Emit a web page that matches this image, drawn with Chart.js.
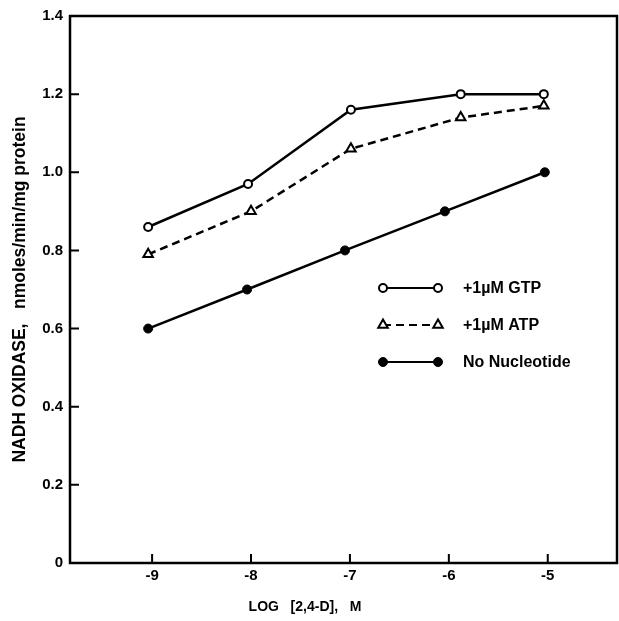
<!DOCTYPE html>
<html>
<head>
<meta charset="utf-8">
<script src="https://cdn.jsdelivr.net/npm/chart.js@4.4.1/dist/chart.umd.min.js"></script>
<style>
  html, body { margin: 0; padding: 0; background: #fff; }
  #wrap { width: 619px; height: 621px; }
</style>
</head>
<body>
<div id="wrap"><canvas id="nadhChart" width="619" height="621"></canvas></div>
<script>
// log [2,4-D] (M) and activity
const gtpX = [-9.04, -8.03, -6.99, -5.88, -5.04];
const gtpY = [0.86, 0.97, 1.16, 1.20, 1.20];
const atpX = [-9.04, -8.0, -6.99, -5.88, -5.04];
const atpY = [0.79, 0.90, 1.06, 1.14, 1.17];
const noneX = [-9.04, -8.04, -7.05, -6.04, -5.03];
const noneY = [0.60, 0.70, 0.80, 0.90, 1.00];
const xTicks = [-9, -8, -7, -6, -5];
const yTicks = [0, 0.2, 0.4, 0.6, 0.8, 1.0, 1.2, 1.4];
const seriesLabels = ['+1µM GTP', '+1µM ATP', 'No Nucleotide'];

const FONT = '"Liberation Sans", Arial, Helvetica, sans-serif';

function pts(xs, ys) {
    return xs.map((x, i) => ({ x: x, y: ys[i] }));
}

// box round the plot, inner tick marks, legend and x title
const framePlugin = {
    id: 'frame',
    afterDraw(chart) {
        const ctx = chart.ctx;
        const a = chart.chartArea;
        const x = chart.scales.x, y = chart.scales.y;
        ctx.save();
        ctx.strokeStyle = '#000';
        ctx.lineWidth = 2.5;
        ctx.setLineDash([]);
        ctx.strokeRect(a.left, a.top, a.right - a.left, a.bottom - a.top);

        ctx.lineWidth = 2;
        ctx.beginPath();
        yTicks.forEach(v => {
            if (v === 0 || v === 1.4) return;
            const py = y.getPixelForValue(v);
            ctx.moveTo(a.left, py);
            ctx.lineTo(a.left + 9, py);
        });
        xTicks.forEach(v => {
            const px = x.getPixelForValue(v);
            ctx.moveTo(px, a.bottom);
            ctx.lineTo(px, a.bottom - 9);
        });
        ctx.stroke();

        // legend
        const rows = [288, 325, 362];
        chart.data.datasets.forEach((ds, i) => {
            const ly = rows[i];
            ctx.strokeStyle = '#000';
            ctx.lineWidth = 2.2;
            ctx.setLineDash(ds.borderDash || []);
            ctx.beginPath();
            ctx.moveTo(383, ly);
            ctx.lineTo(438, ly);
            ctx.stroke();
            ctx.setLineDash([]);
            [383, 438].forEach(px => {
                ctx.fillStyle = ds.pointBackgroundColor;
                ctx.strokeStyle = '#000';
                ctx.lineWidth = ds.pointBorderWidth;
                Chart.helpers.drawPoint(ctx, {
                    pointStyle: ds.pointStyle,
                    radius: ds.pointRadius,
                    borderWidth: ds.pointBorderWidth,
                    rotation: 0
                }, px, ly);
            });
            ctx.fillStyle = '#000';
            ctx.font = 'bold 16px ' + FONT;
            ctx.textAlign = 'left';
            ctx.textBaseline = 'middle';
            ctx.fillText(ds.label, 463, ly + 1);
        });

        ctx.font = 'bold 14px ' + FONT;
        ctx.textAlign = 'center';
        ctx.textBaseline = 'middle';
        ctx.fillText('LOG   [2,4-D],   M', 305, 607);
        ctx.restore();
    }
};

const ctx = document.getElementById('nadhChart').getContext('2d');
const nadhChart = new Chart(ctx, {
    type: 'line',
    data: {
        datasets: [{
            label: seriesLabels[0],
            data: pts(gtpX, gtpY),
            borderColor: '#000',
            borderWidth: 2.5,
            pointStyle: 'circle',
            pointRadius: 4,
            pointBorderWidth: 2,
            pointBackgroundColor: '#fff',
            pointBorderColor: '#000'
        }, {
            label: seriesLabels[1],
            data: pts(atpX, atpY),
            borderColor: '#000',
            borderWidth: 2.5,
            borderDash: [8, 5],
            pointStyle: 'triangle',
            pointRadius: 5.5,
            pointBorderWidth: 2,
            pointBackgroundColor: '#fff',
            pointBorderColor: '#000'
        }, {
            label: seriesLabels[2],
            data: pts(noneX, noneY),
            borderColor: '#000',
            borderWidth: 2.5,
            pointStyle: 'circle',
            pointRadius: 4.5,
            pointBorderWidth: 1,
            pointBackgroundColor: '#000',
            pointBorderColor: '#000'
        }]
    },
    options: {
        responsive: false,
        animation: false,
        events: [],
        layout: { autoPadding: false, padding: { top: 15, right: 2, left: 0, bottom: 0 } },
        plugins: {
            legend: { display: false },
            tooltip: { enabled: false }
        },
        scales: {
            x: {
                type: 'linear',
                min: -9.83,
                max: -4.3,
                grid: { display: false, drawTicks: false },
                border: { display: false },
                afterBuildTicks: s => { s.ticks = xTicks.map(v => ({ value: v })); },
                afterFit: s => { s.height = 58; },
                ticks: {
                    color: '#000',
                    padding: 4,
                    font: { family: FONT, size: 15, weight: 'bold' },
                    callback: v => String(v)
                }
            },
            y: {
                min: 0,
                max: 1.4,
                grid: { display: false, drawTicks: false },
                border: { display: false },
                afterBuildTicks: s => { s.ticks = yTicks.map(v => ({ value: v })); },
                afterFit: s => { s.width = 70; },
                ticks: {
                    color: '#000',
                    padding: 7,
                    font: { family: FONT, size: 15, weight: 'bold' },
                    callback: v => (v === 0 ? '0' : v.toFixed(1))
                },
                title: {
                    display: true,
                    text: 'NADH OXIDASE,   nmoles/min/mg protein',
                    color: '#000',
                    padding: { top: 10, bottom: 0 },
                    font: { family: FONT, size: 17.5, weight: 'bold' }
                }
            }
        }
    },
    plugins: [framePlugin]
});
</script>
</body>
</html>
